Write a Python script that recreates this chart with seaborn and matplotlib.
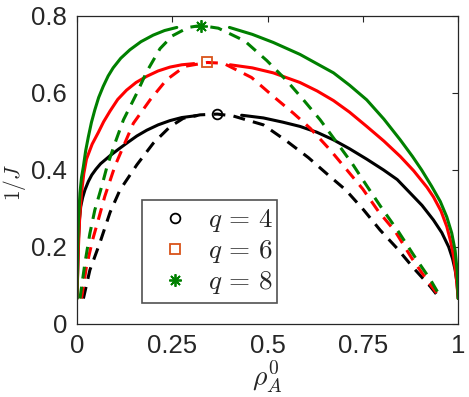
import pandas as pd
import seaborn as sns
import matplotlib.pyplot as plt


# curves (rho_A^0, 1/J)
q_values = [4, 6, 8]
colors = ['black', '#ff0000', '#008000']
marker_colors = ['black', '#d95319', '#008000']

# q = 4
q4_solid_left_x = [0.0, 0.002, 0.004, 0.007, 0.010, 0.015, 0.021, 0.030, 0.039, 0.050, 0.062, 0.087, 0.108,
                   0.130, 0.157, 0.183, 0.213, 0.244, 0.275, 0.314]
q4_solid_left_y = [0.066, 0.140, 0.220, 0.275, 0.305, 0.328, 0.348, 0.370, 0.387, 0.402, 0.416, 0.437, 0.453,
                   0.469, 0.488, 0.503, 0.517, 0.528, 0.536, 0.541]
q4_solid_right_x = [0.432, 0.489, 0.540, 0.585, 0.629, 0.673, 0.715, 0.760, 0.804, 0.840, 0.874, 0.905, 0.935,
                    0.957, 0.975, 0.985, 0.992, 0.997, 1.0]
q4_solid_right_y = [0.542, 0.535, 0.524, 0.513, 0.498, 0.478, 0.455, 0.428, 0.400, 0.375, 0.340, 0.308, 0.270,
                    0.237, 0.200, 0.170, 0.140, 0.105, 0.066]
q4_dash_x = [0.017, 0.034, 0.060, 0.087, 0.113, 0.157, 0.200, 0.244, 0.279, 0.323, 0.368, 0.410, 0.489,
             0.550, 0.607, 0.660, 0.705, 0.752, 0.795, 0.839, 0.883, 0.927, 0.952]
q4_dash_y = [0.066, 0.140, 0.210, 0.290, 0.348, 0.413, 0.469, 0.512, 0.534, 0.543, 0.545, 0.540, 0.517,
             0.475, 0.432, 0.386, 0.348, 0.296, 0.244, 0.197, 0.145, 0.097, 0.066]

# q = 6
q6_solid_left_x = [0.0, 0.002, 0.004, 0.007, 0.012, 0.018, 0.025, 0.040, 0.056, 0.070, 0.087, 0.107, 0.130,
                   0.155, 0.183, 0.213, 0.244, 0.275, 0.307]
q6_solid_left_y = [0.066, 0.130, 0.200, 0.270, 0.340, 0.390, 0.428, 0.467, 0.497, 0.525, 0.553, 0.583, 0.607,
                   0.627, 0.643, 0.657, 0.667, 0.673, 0.676]
q6_solid_right_x = [0.402, 0.460, 0.515, 0.585, 0.630, 0.673, 0.715, 0.760, 0.805, 0.848, 0.883, 0.918, 0.935,
                    0.955, 0.970, 0.980, 0.988, 0.995, 1.0]
q6_solid_right_y = [0.673, 0.665, 0.652, 0.627, 0.605, 0.580, 0.550, 0.513, 0.475, 0.435, 0.398, 0.355, 0.330,
                    0.293, 0.253, 0.215, 0.175, 0.120, 0.066]
q6_dash_x = [0.012, 0.025, 0.041, 0.056, 0.073, 0.095, 0.104, 0.148, 0.192, 0.235, 0.283, 0.342, 0.384,
             0.458, 0.515, 0.568, 0.612, 0.664, 0.708, 0.750, 0.791, 0.835, 0.878, 0.918, 0.954]
q6_dash_y = [0.066, 0.149, 0.218, 0.270, 0.331, 0.396, 0.420, 0.521, 0.582, 0.634, 0.669, 0.679, 0.677,
             0.640, 0.591, 0.547, 0.508, 0.452, 0.400, 0.350, 0.292, 0.240, 0.171, 0.114, 0.066]

# q = 8
q8_solid_left_x = [0.0, 0.001, 0.002, 0.004, 0.008, 0.012, 0.017, 0.023, 0.030, 0.038, 0.047, 0.057, 0.069,
                   0.082, 0.095, 0.115, 0.139, 0.168, 0.200, 0.230, 0.262]
q8_solid_left_y = [0.066, 0.130, 0.200, 0.270, 0.340, 0.380, 0.409, 0.450, 0.486, 0.523, 0.556, 0.588, 0.617,
                   0.644, 0.665, 0.690, 0.712, 0.733, 0.750, 0.762, 0.770]
q8_solid_right_x = [0.400, 0.460, 0.515, 0.585, 0.673, 0.715, 0.760, 0.805, 0.848, 0.880, 0.904, 0.930, 0.953,
                    0.970, 0.983, 0.992, 0.997, 1.0]
q8_solid_right_y = [0.770, 0.752, 0.731, 0.700, 0.652, 0.620, 0.582, 0.532, 0.478, 0.435, 0.400, 0.358, 0.318,
                    0.278, 0.236, 0.190, 0.140, 0.066]
q8_dash_x = [0.008, 0.021, 0.034, 0.047, 0.065, 0.079, 0.100, 0.122, 0.157, 0.183, 0.218, 0.250, 0.292,
             0.325, 0.371, 0.440, 0.498, 0.550, 0.594, 0.638, 0.681, 0.723, 0.760, 0.800, 0.843, 0.887,
             0.927, 0.956]
q8_dash_y = [0.066, 0.158, 0.235, 0.296, 0.357, 0.409, 0.470, 0.530, 0.599, 0.655, 0.715, 0.748, 0.770,
             0.775, 0.768, 0.735, 0.684, 0.632, 0.582, 0.530, 0.472, 0.415, 0.359, 0.300, 0.240, 0.173,
             0.115, 0.066]

# critical points (markers)
crit_x = [0.368, 0.342, 0.325]
crit_y = [0.545, 0.679, 0.775]

x_ticks = [0, 0.25, 0.5, 0.75, 1]
x_tick_labels = ['0', '0.25', '0.5', '0.75', '1']
y_ticks = [0, 0.2, 0.4, 0.6, 0.8]
y_tick_labels = ['0', '0.2', '0.4', '0.6', '0.8']


sns.set_style('white')
plt.rcParams['font.family'] = ['Liberation Sans', 'DejaVu Sans']
plt.rcParams['mathtext.fontset'] = 'cm'

fig = plt.figure(figsize=(4.69, 3.97), dpi=100)
ax = fig.add_axes([0.164, 0.184, 0.813, 0.776])

curves = [
    (q4_solid_left_x, q4_solid_left_y, q4_solid_right_x, q4_solid_right_y, q4_dash_x, q4_dash_y),
    (q6_solid_left_x, q6_solid_left_y, q6_solid_right_x, q6_solid_right_y, q6_dash_x, q6_dash_y),
    (q8_solid_left_x, q8_solid_left_y, q8_solid_right_x, q8_solid_right_y, q8_dash_x, q8_dash_y),
]

lw = 2.2
for c, (slx, sly, srx, sry, dx, dy) in zip(colors, curves):
    sns.lineplot(x=slx, y=sly, sort=False, estimator=None, color=c, lw=lw, ax=ax)
    sns.lineplot(x=srx, y=sry, sort=False, estimator=None, color=c, lw=lw, ax=ax)
    sns.lineplot(x=dx, y=dy, sort=False, estimator=None, color=c, lw=lw,
                 linestyle=(0, (3.9, 2.7)), ax=ax)

markers = ['o', 's', (8, 2, 0)]
sizes = [7, 6.5, 9]
for i, q in enumerate(q_values):
    sns.lineplot(x=[crit_x[i]], y=[crit_y[i]], marker=markers[i], markersize=sizes[i],
                 markerfacecolor='none', markeredgecolor=marker_colors[i], markeredgewidth=1.3,
                 linestyle='', estimator=None, label=rf'$q\,=\,{q}$', ax=ax)

ax.set_xlim(0, 1)
ax.set_ylim(0, 0.8)
ax.set_xticks(x_ticks)
ax.set_xticklabels(x_tick_labels)
ax.set_yticks(y_ticks)
ax.set_yticklabels(y_tick_labels)
ax.tick_params(direction='in', length=4.5, width=0.8, color='#262626', labelsize=18.5,
               labelcolor='#262626', pad=7, top=True, right=True)
for s in ax.spines.values():
    s.set_visible(True)
    s.set_color('#262626')
    s.set_linewidth(0.9)

ax.set_xlabel(r'$\rho_A^0$', fontsize=20, labelpad=1)
ax.set_ylabel(r'$1/J$', fontsize=15.5)
ax.yaxis.set_label_coords(-0.127, 0.46)

leg = ax.legend(loc='lower left', bbox_to_anchor=(0.171, 0.068, 0.354, 0.332), mode='expand',
                fontsize=19.5, frameon=True, fancybox=False, edgecolor='#262626',
                borderpad=0.25, labelspacing=0.15, handlelength=1.9, handletextpad=0.3,
                borderaxespad=0)
leg.get_frame().set_linewidth(1.2)

fig.savefig('out.png', dpi=100)
